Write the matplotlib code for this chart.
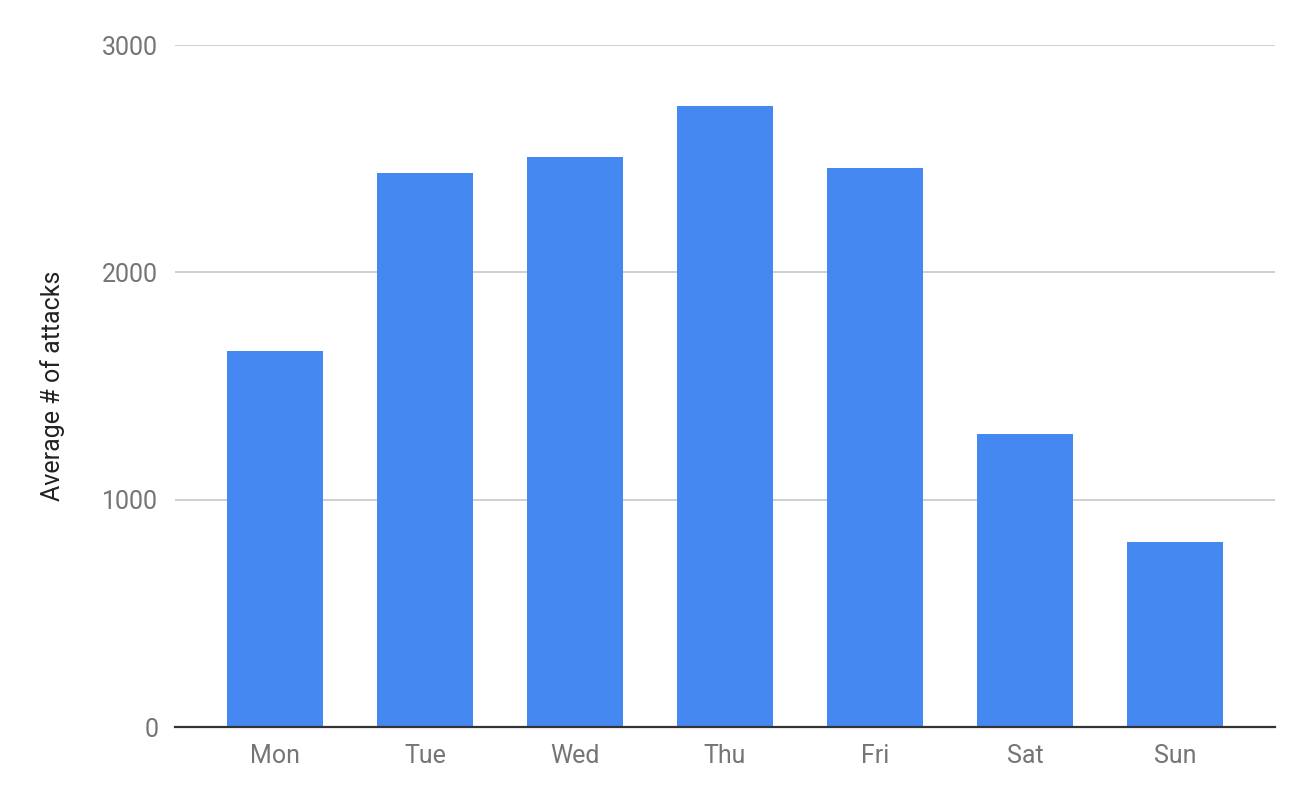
import matplotlib.pyplot as plt
import numpy as np

plt.rcParams['font.family'] = ['Roboto', 'DejaVu Sans']

days = ['Mon', 'Tue', 'Wed', 'Thu', 'Fri', 'Sat', 'Sun']
attacks = [1654, 2437, 2507, 2732, 2459, 1289, 814]
yticks = [0, 1000, 2000, 3000]

fig = plt.figure(figsize=(12.98, 7.90), dpi=100)
ax = fig.add_axes([0.1348, 0.0797, 0.8475, 0.8633])

x = np.arange(len(days))
ax.bar(x, attacks, width=0.64, color='#4688f1', zorder=3)

ax.set_xlim(-0.667, len(days) - 1 + 0.667)
ax.set_ylim(0, 3000)
ax.set_yticks(yticks)
ax.set_xticks(x)
ax.set_xticklabels(days)
ax.grid(axis='y', color='#cccccc', linewidth=1.3, zorder=0)

for s in ['top', 'right', 'left']:
    ax.spines[s].set_visible(False)
ax.spines['bottom'].set_color('#333333')
ax.spines['bottom'].set_linewidth(1.6)
ax.spines['bottom'].set_zorder(4)

ax.tick_params(axis='both', length=0, labelsize=18, labelcolor='#757575')
ax.tick_params(axis='y', pad=12)
ax.tick_params(axis='x', pad=12)
ax.set_ylabel('Average # of attacks', fontsize=18, color='#222222', labelpad=27)

fig.savefig('out.png', dpi=100)
